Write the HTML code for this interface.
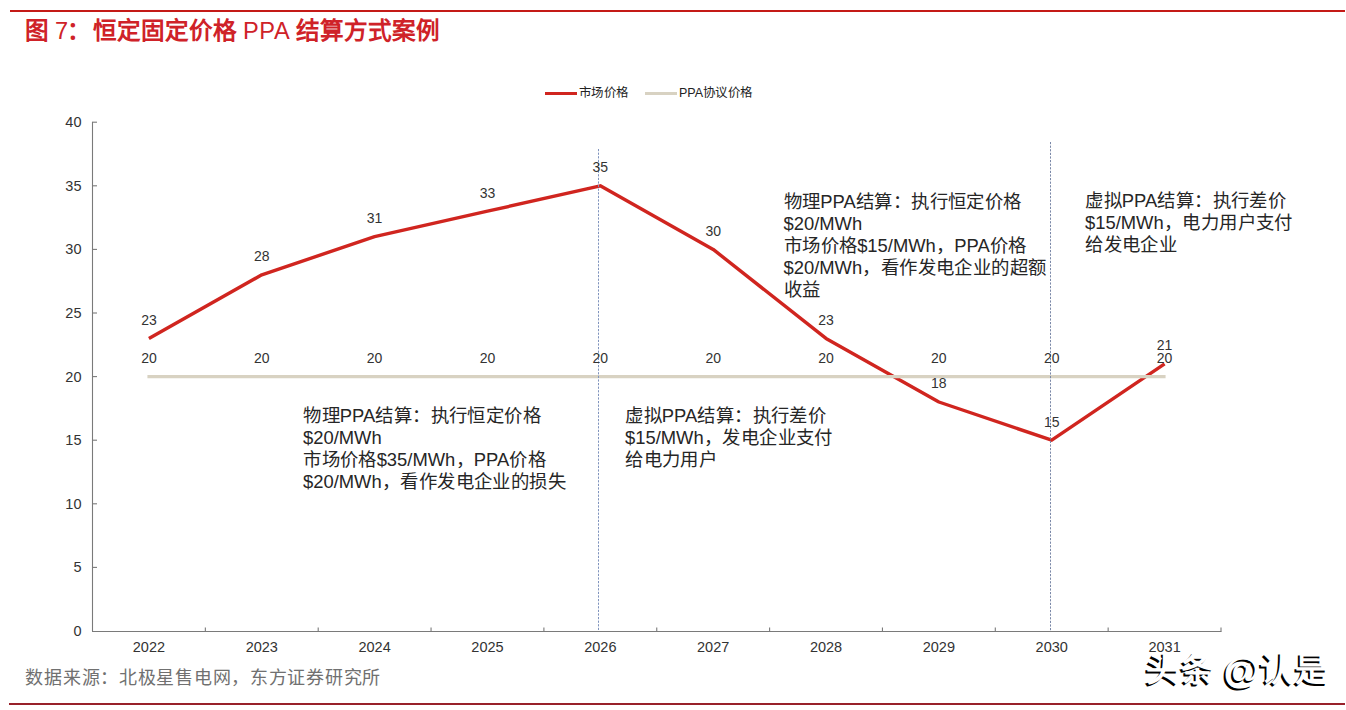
<!DOCTYPE html>
<html lang="zh-CN"><head><meta charset="utf-8">
<style>
html,body{margin:0;padding:0;background:#fff;}
body{width:1346px;height:710px;position:relative;overflow:hidden;font-family:"Liberation Sans",sans-serif;text-spacing-trim:space-all;}
.rule{position:absolute;left:10px;height:2px;background:#d42424;}
.t{position:absolute;top:17px;font-size:23.6px;color:#cf2228;white-space:nowrap;line-height:28px;}
.b{font-weight:bold;}
i{font-style:normal;display:inline-block;text-align:center;}
.ann i{width:18.42px;}
.t i{width:24px;}
.legend i{width:12.4px;}
.src i{width:18.72px;}
.wm i{width:35px;}
.at{font-weight:inherit;display:inline-block;width:44px;text-align:right;font-size:37px;letter-spacing:0;vertical-align:-2px;}
.src{position:absolute;left:25px;top:665px;font-size:18px;color:#707070;white-space:nowrap;line-height:26px;}
.legend{position:absolute;top:85px;font-size:12.5px;color:#222;white-space:nowrap;line-height:16px;}
.ann{position:absolute;font-size:18.4px;color:#262626;line-height:22px;white-space:nowrap;}
svg{position:absolute;left:0;top:0;}
.ax{font-size:14.5px;fill:#333;}
.dl{font-size:14px;fill:#333;}
.wm{position:absolute;font-size:33px;line-height:40px;letter-spacing:2px;white-space:nowrap;}
</style></head><body>
<div class="rule" style="top:10px;left:10px;width:1335px;background:#c41a17"></div>
<div class="t b" style="left:25px"><i>图</i></div>
<div class="t" style="left:55px">7</div>
<div class="t b" style="left:67px"><i>：</i></div>
<div class="t b" style="left:92.5px"><i>恒</i><i>定</i><i>固</i><i>定</i><i>价</i><i>格</i></div>
<div class="t" style="left:243px;letter-spacing:0.6px">PPA</div>
<div class="t b" style="left:296px"><i>结</i><i>算</i><i>方</i><i>式</i><i>案</i><i>例</i></div>
<svg width="1346" height="710" viewBox="0 0 1346 710">
<line x1="92.5" y1="121.69999999999999" x2="92.5" y2="631.5" stroke="#7a7a7a" stroke-width="1.1"/>
<line x1="92" y1="631.5" x2="1221.5" y2="631.5" stroke="#7a7a7a" stroke-width="1.1"/>
<text x="81.5" y="636.0" text-anchor="end" class="ax">0</text>
<line x1="92.5" y1="567.4" x2="97.0" y2="567.4" stroke="#7a7a7a" stroke-width="1.1"/>
<text x="81.5" y="572.4" text-anchor="end" class="ax">5</text>
<line x1="92.5" y1="503.8" x2="97.0" y2="503.8" stroke="#7a7a7a" stroke-width="1.1"/>
<text x="81.5" y="508.8" text-anchor="end" class="ax">10</text>
<line x1="92.5" y1="440.2" x2="97.0" y2="440.2" stroke="#7a7a7a" stroke-width="1.1"/>
<text x="81.5" y="445.2" text-anchor="end" class="ax">15</text>
<line x1="92.5" y1="376.6" x2="97.0" y2="376.6" stroke="#7a7a7a" stroke-width="1.1"/>
<text x="81.5" y="381.6" text-anchor="end" class="ax">20</text>
<line x1="92.5" y1="313.0" x2="97.0" y2="313.0" stroke="#7a7a7a" stroke-width="1.1"/>
<text x="81.5" y="318.0" text-anchor="end" class="ax">25</text>
<line x1="92.5" y1="249.39999999999998" x2="97.0" y2="249.39999999999998" stroke="#7a7a7a" stroke-width="1.1"/>
<text x="81.5" y="254.39999999999998" text-anchor="end" class="ax">30</text>
<line x1="92.5" y1="185.79999999999995" x2="97.0" y2="185.79999999999995" stroke="#7a7a7a" stroke-width="1.1"/>
<text x="81.5" y="190.79999999999995" text-anchor="end" class="ax">35</text>
<line x1="92.5" y1="122.19999999999999" x2="97.0" y2="122.19999999999999" stroke="#7a7a7a" stroke-width="1.1"/>
<text x="81.5" y="127.19999999999999" text-anchor="end" class="ax">40</text>
<line x1="205.35" y1="631.5" x2="205.35" y2="627.5" stroke="#7a7a7a" stroke-width="1.1"/>
<line x1="318.2" y1="631.5" x2="318.2" y2="627.5" stroke="#7a7a7a" stroke-width="1.1"/>
<line x1="431.04999999999995" y1="631.5" x2="431.04999999999995" y2="627.5" stroke="#7a7a7a" stroke-width="1.1"/>
<line x1="543.9" y1="631.5" x2="543.9" y2="627.5" stroke="#7a7a7a" stroke-width="1.1"/>
<line x1="656.75" y1="631.5" x2="656.75" y2="627.5" stroke="#7a7a7a" stroke-width="1.1"/>
<line x1="769.5999999999999" y1="631.5" x2="769.5999999999999" y2="627.5" stroke="#7a7a7a" stroke-width="1.1"/>
<line x1="882.4499999999999" y1="631.5" x2="882.4499999999999" y2="627.5" stroke="#7a7a7a" stroke-width="1.1"/>
<line x1="995.3" y1="631.5" x2="995.3" y2="627.5" stroke="#7a7a7a" stroke-width="1.1"/>
<line x1="1108.15" y1="631.5" x2="1108.15" y2="627.5" stroke="#7a7a7a" stroke-width="1.1"/>
<line x1="1221.0" y1="631.5" x2="1221.0" y2="627.5" stroke="#7a7a7a" stroke-width="1.1"/>
<text x="148.925" y="652.3" text-anchor="middle" class="ax">2022</text>
<text x="261.775" y="652.3" text-anchor="middle" class="ax">2023</text>
<text x="374.625" y="652.3" text-anchor="middle" class="ax">2024</text>
<text x="487.47499999999997" y="652.3" text-anchor="middle" class="ax">2025</text>
<text x="600.325" y="652.3" text-anchor="middle" class="ax">2026</text>
<text x="713.175" y="652.3" text-anchor="middle" class="ax">2027</text>
<text x="826.025" y="652.3" text-anchor="middle" class="ax">2028</text>
<text x="938.875" y="652.3" text-anchor="middle" class="ax">2029</text>
<text x="1051.725" y="652.3" text-anchor="middle" class="ax">2030</text>
<text x="1164.575" y="652.3" text-anchor="middle" class="ax">2031</text>
<polyline points="148.9,338.4 261.8,274.8 374.6,236.7 487.5,211.2 600.3,185.8 713.2,249.4 826.0,338.4 938.9,402.0 1051.7,440.2 1164.6,363.9" fill="none" stroke="#d0251f" stroke-width="3.4" stroke-linejoin="round"/>
<line x1="147.425" y1="376.6" x2="1165.575" y2="376.6" stroke="#d8d2c2" stroke-width="3.4"/>
<line x1="598.5" y1="149" x2="598.5" y2="631.0" stroke="#7f93bd" stroke-width="1" stroke-dasharray="2.2,1.4"/>
<line x1="1050.5" y1="142" x2="1050.5" y2="631.0" stroke="#7a88a8" stroke-width="1" stroke-dasharray="2.2,1.4"/>
<text x="148.925" y="324.74" text-anchor="middle" class="dl">23</text>
<text x="261.775" y="261.14" text-anchor="middle" class="dl">28</text>
<text x="374.625" y="222.98000000000002" text-anchor="middle" class="dl">31</text>
<text x="487.47499999999997" y="197.53999999999996" text-anchor="middle" class="dl">33</text>
<text x="600.325" y="172.09999999999997" text-anchor="middle" class="dl">35</text>
<text x="713.175" y="235.7" text-anchor="middle" class="dl">30</text>
<text x="826.025" y="324.74" text-anchor="middle" class="dl">23</text>
<text x="938.875" y="388.34" text-anchor="middle" class="dl">18</text>
<text x="1051.725" y="426.5" text-anchor="middle" class="dl">15</text>
<text x="1164.575" y="350.18" text-anchor="middle" class="dl">21</text>
<text x="148.925" y="362.70000000000005" text-anchor="middle" class="dl">20</text>
<text x="261.775" y="362.70000000000005" text-anchor="middle" class="dl">20</text>
<text x="374.625" y="362.70000000000005" text-anchor="middle" class="dl">20</text>
<text x="487.47499999999997" y="362.70000000000005" text-anchor="middle" class="dl">20</text>
<text x="600.325" y="362.70000000000005" text-anchor="middle" class="dl">20</text>
<text x="713.175" y="362.70000000000005" text-anchor="middle" class="dl">20</text>
<text x="826.025" y="362.70000000000005" text-anchor="middle" class="dl">20</text>
<text x="938.875" y="362.70000000000005" text-anchor="middle" class="dl">20</text>
<text x="1051.725" y="362.70000000000005" text-anchor="middle" class="dl">20</text>
<text x="1164.575" y="362.70000000000005" text-anchor="middle" class="dl">20</text>
</svg>
<div class="legend" style="left:545px"><span style="display:inline-block;width:32px;height:3.3px;background:#d0251f;vertical-align:middle;margin-right:2px"></span><i>市</i><i>场</i><i>价</i><i>格</i></div>
<div class="legend" style="left:645px"><span style="display:inline-block;width:32px;height:3.3px;background:#d8d2c2;vertical-align:middle;margin-right:2px"></span>PPA<i>协</i><i>议</i><i>价</i><i>格</i></div>
<div class="ann" style="left:303px;top:404.5px"><i>物</i><i>理</i>PPA<i>结</i><i>算</i><i>：</i><i>执</i><i>行</i><i>恒</i><i>定</i><i>价</i><i>格</i></div>
<div class="ann" style="left:303px;top:426.7px">$20/MWh</div>
<div class="ann" style="left:303px;top:448.9px"><i>市</i><i>场</i><i>价</i><i>格</i>$35/MWh<i>，</i>PPA<i>价</i><i>格</i></div>
<div class="ann" style="left:303px;top:471.1px">$20/MWh<i>，</i><i>看</i><i>作</i><i>发</i><i>电</i><i>企</i><i>业</i><i>的</i><i>损</i><i>失</i></div>
<div class="ann" style="left:625px;top:404.5px"><i>虚</i><i>拟</i>PPA<i>结</i><i>算</i><i>：</i><i>执</i><i>行</i><i>差</i><i>价</i></div>
<div class="ann" style="left:625px;top:426.7px">$15/MWh<i>，</i><i>发</i><i>电</i><i>企</i><i>业</i><i>支</i><i>付</i></div>
<div class="ann" style="left:625px;top:448.9px"><i>给</i><i>电</i><i>力</i><i>用</i><i>户</i></div>
<div class="ann" style="left:783.5px;top:190.5px"><i>物</i><i>理</i>PPA<i>结</i><i>算</i><i>：</i><i>执</i><i>行</i><i>恒</i><i>定</i><i>价</i><i>格</i></div>
<div class="ann" style="left:783.5px;top:212.7px">$20/MWh</div>
<div class="ann" style="left:783.5px;top:234.9px"><i>市</i><i>场</i><i>价</i><i>格</i>$15/MWh<i>，</i>PPA<i>价</i><i>格</i></div>
<div class="ann" style="left:783.5px;top:257.1px">$20/MWh<i>，</i><i>看</i><i>作</i><i>发</i><i>电</i><i>企</i><i>业</i><i>的</i><i>超</i><i>额</i></div>
<div class="ann" style="left:783.5px;top:279.3px"><i>收</i><i>益</i></div>
<div class="ann" style="left:1085px;top:190.0px"><i>虚</i><i>拟</i>PPA<i>结</i><i>算</i><i>：</i><i>执</i><i>行</i><i>差</i><i>价</i></div>
<div class="ann" style="left:1085px;top:212.2px">$15/MWh<i>，</i><i>电</i><i>力</i><i>用</i><i>户</i><i>支</i><i>付</i></div>
<div class="ann" style="left:1085px;top:234.4px"><i>给</i><i>发</i><i>电</i><i>企</i><i>业</i></div>
<div class="src"><i>数</i><i>据</i><i>来</i><i>源</i><i>：</i><i>北</i><i>极</i><i>星</i><i>售</i><i>电</i><i>网</i><i>，</i><i>东</i><i>方</i><i>证</i><i>券</i><i>研</i><i>究</i><i>所</i></div>
<div class="wm" style="left:1143.5px;top:651.5px;color:#000;font-weight:bold"><i>头</i><i>条</i><b class="at">@</b><i>认</i><i>是</i></div>
<div class="wm" style="left:1145.5px;top:649.5px;color:#fff;font-weight:bold"><i>头</i><i>条</i><b class="at">@</b><i>认</i><i>是</i></div>
<div class="rule" style="top:703px;left:9px;width:1336px;background:#98212a"></div>
</body></html>
